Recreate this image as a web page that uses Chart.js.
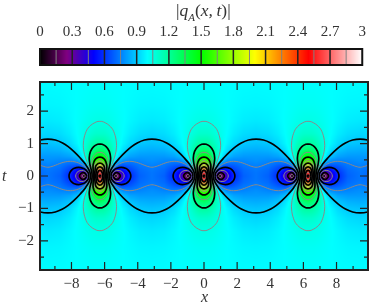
<!DOCTYPE html>
<html lang="en">
  <head>
    <meta charset="UTF-8" />
    <title>|q_A(x,t)|</title>
    <script src="https://cdn.jsdelivr.net/npm/chart.js"></script>
    <style>
      body {
        margin: 0;
        width: 374px;
        height: 305px;
        overflow: hidden;
        background: #fff;
        position: relative;
        font-family: "Liberation Serif", serif;
        color: #333;
      }
      canvas {
        position: absolute;
        left: 0;
        display: block;
      }
      #barCanvas { top: 0; }
      #mainCanvas { top: 72px; }
      .label {
        position: absolute;
        font-size: 16px;
        line-height: 16px;
        white-space: nowrap;
      }
      #topTitle { font-size: 17.5px; }
      .label sub { font-size: 11px; line-height: 0; }
    </style>
  </head>
  <body>
    <canvas id="barCanvas" width="374" height="72"></canvas>
    <canvas id="mainCanvas" width="374" height="233"></canvas>
    <div class="label" id="topTitle" style="left: 176px; top: 2px">|<i>q</i><sub><i>A</i></sub>(<i>x,&#8201;t</i>)|</div>
    <div class="label" style="left: 201px; top: 289px"><i>x</i></div>
    <div class="label" style="left: 2px; top: 168px"><i>t</i></div>

    <script>
      // colour bar
      const colorStops = [0, 0.25, 0.5, 1, 1.5, 2, 2.5, 3];
      const colorValues = [
        [0, 0, 0], [128, 0, 128], [0, 0, 255], [0, 255, 255],
        [0, 255, 0], [255, 255, 0], [255, 0, 0], [255, 255, 255],
      ];
      const blackLevels = [0.3, 0.6, 0.9, 1.2, 1.5, 1.8, 2.1, 2.4, 2.7];
      const grayLevels = [0.15, 0.45, 0.75, 1.05, 1.35, 1.65, 1.95, 2.25, 2.55, 2.85];

      // |q|: one quarter of a period, columns xGrid, rows tGrid
      const xGrid = [0, 0.2, 0.35, 0.5, 0.65, 0.8, 0.96, 1.15, 1.4, 1.8, 2.4, 3.1416];
      const tGrid = [0, 0.1, 0.2, 0.3, 0.45, 0.6, 0.8, 1, 1.3, 1.7, 2.2, 2.9];
      const qRows = [
        [2.73, 2.31, 1.67, 1.08, 0.61, 0.26, 0.01, 0.23, 0.41, 0.58, 0.69, 0.73],
        [2.61, 2.25, 1.69, 1.15, 0.72, 0.43, 0.29, 0.33, 0.45, 0.59, 0.70, 0.73],
        [2.34, 2.09, 1.68, 1.27, 0.93, 0.69, 0.55, 0.50, 0.54, 0.63, 0.71, 0.74],
        [2.05, 1.89, 1.63, 1.34, 1.08, 0.88, 0.74, 0.66, 0.64, 0.67, 0.73, 0.75],
        [1.71, 1.64, 1.50, 1.34, 1.18, 1.04, 0.93, 0.83, 0.77, 0.75, 0.76, 0.78],
        [1.48, 1.45, 1.38, 1.29, 1.19, 1.10, 1.02, 0.94, 0.87, 0.82, 0.80, 0.80],
        [1.30, 1.28, 1.25, 1.21, 1.16, 1.11, 1.06, 1.00, 0.94, 0.885, 0.85, 0.84],
        [1.19, 1.185, 1.17, 1.147, 1.12, 1.09, 1.06, 1.02, 0.98, 0.93, 0.89, 0.88],
        [1.10, 1.10, 1.094, 1.084, 1.072, 1.058, 1.042, 1.023, 0.998, 0.965, 0.933, 0.92],
        [1.049, 1.048, 1.045, 1.042, 1.037, 1.031, 1.024, 1.015, 1.004, 0.986, 0.966, 0.958],
        [1.02, 1.02, 1.02, 1.018, 1.016, 1.013, 1.01, 1.007, 1.0, 0.994, 0.985, 0.982],
        [1.004, 1.004, 1.004, 1.003, 1.003, 1.002, 1.002, 1.001, 1.0, 0.999, 0.997, 0.996],
      ];

      // contour lines, one quarter, [x from the peak, t]
      const lobe105 = [[0.509, 0], [0.564, 0.16], [0.72, 0.359], [0.863, 0.555], [0.968, 0.76], [0.997, 1.018], [0.873, 1.32], [0.643, 1.52], [0.225, 1.667], [0, 1.686]];
      const lobe120 = [[0.469, 0], [0.51, 0.16], [0.604, 0.359], [0.645, 0.555], [0.568, 0.76], [0.375, 0.905], [0.127, 0.98], [0, 0.985]];
      const lobe135 = [[0.43, 0], [0.47, 0.16], [0.503, 0.359], [0.44, 0.555], [0.25, 0.687], [0, 0.73]];
      const lobe150 = [[0.393, 0], [0.41, 0.2], [0.405, 0.359], [0.298, 0.5], [0.13, 0.57], [0, 0.585]];
      const lobe165 = [[0.356, 0], [0.34, 0.2], [0.305, 0.359], [0.15, 0.45], [0, 0.475]];
      const lobe180 = [[0.323, 0], [0.3, 0.15], [0.246, 0.312], [0.1, 0.39], [0, 0.4]];
      const lobe195 = [[0.288, 0], [0.26, 0.12], [0.216, 0.256], [0.1, 0.33], [0, 0.34]];
      const lobe210 = [[0.25, 0], [0.225, 0.11], [0.18, 0.215], [0.08, 0.27], [0, 0.28]];
      const lobe225 = [[0.215, 0], [0.17, 0.12], [0.07, 0.2], [0, 0.22]];
      const lobe240 = [[0.173, 0], [0.14, 0.1], [0.06, 0.165], [0, 0.177]];
      const lobe255 = [[0.126, 0], [0.09, 0.08], [0, 0.12]];
      const lobe270 = [[0.05, 0], [0.035, 0.02], [0, 0.03]];
      const oval060 = [[0.665, 0], [0.706, 0.1], [0.838, 0.182], [0.979, 0.231], [1.287, 0.266], [1.583, 0.231], [1.708, 0.182], [1.82, 0.1], [1.864, 0]];
      const oval045 = [[0.714, 0], [0.76, 0.08], [0.883, 0.141], [1.09, 0.172], [1.315, 0.141], [1.42, 0.08], [1.465, 0]];
      const oval030 = [[0.78, 0], [0.938, 0.1], [1.01, 0.105], [1.088, 0.1], [1.234, 0]];
      const oval015 = [[0.86, 0], [0.96, 0.05], [1.07, 0]];
      const wave090 = [[0.553, 0], [0.63, 0.16], [0.867, 0.359], [1.185, 0.555], [1.58, 0.76], [1.914, 0.905], [2.254, 1.018], [2.69, 1.11], [3.1416, 1.14]];
      const wave075 = [[0.6, 0], [0.68, 0.141], [0.853, 0.256], [0.98, 0.312], [1.117, 0.359], [1.278, 0.4], [1.506, 0.436], [1.79, 0.454], [2.088, 0.436], [2.346, 0.4], [2.556, 0.359], [2.786, 0.312], [3.0, 0.28], [3.1416, 0.27]];

      const peaks = [-6.2832, 0, 6.2832];
      const wavePeaks = [-12.5664, -6.2832, 0, 6.2832];
      const period = 6.2832;

      const BLACK = "#000";
      const GRAY = "#8a8a8a";
      const FRAME = "#222";

      function qColor(v) {
        v = Math.max(0, Math.min(3, v));
        let i = 0;
        while (i < colorStops.length - 2 && v > colorStops[i + 1]) i++;
        const f = (v - colorStops[i]) / (colorStops[i + 1] - colorStops[i]);
        return colorValues[i].map((c, k) => c + (colorValues[i + 1][k] - c) * f);
      }

      function bracket(list, v) {
        let i = 0;
        while (i < list.length - 2 && v > list[i + 1]) i++;
        const f = Math.min(1, (v - list[i]) / (list[i + 1] - list[i]));
        return [i, f];
      }

      function qAt(x, t) {
        let u = ((x % period) + period) % period;
        if (u > period / 2) u = period - u;
        const [i, fx] = bracket(xGrid, u);
        const [j, ft] = bracket(tGrid, Math.abs(t));
        const a = qRows[j][i] + (qRows[j][i + 1] - qRows[j][i]) * fx;
        const b = qRows[j + 1][i] + (qRows[j + 1][i + 1] - qRows[j + 1][i]) * fx;
        return a + (b - a) * ft;
      }

      const toPoint = ([x, t]) => ({ x, y: t });

      function lineSet(points, level, color, width) {
        return {
          data: points.map(toPoint),
          borderColor: color,
          borderWidth: width,
          showLine: true,
          pointRadius: 0,
          tension: 0.4,
          order: color === BLACK ? 0 : 1,
          label: String(level),
        };
      }

      function loopFromLobe(q, c) {
        const a = q.map(([x, t]) => [c + x, t]);
        const b = q.slice(0, -1).reverse().map(([x, t]) => [c - x, t]);
        const top = a.concat(b);
        const bottom = top.slice(0, -1).reverse().map(([x, t]) => [x, -t]);
        return top.concat(bottom);
      }

      function loopFromOval(q, c, side) {
        const top = q.map(([x, t]) => [c + side * x, t]);
        const bottom = top.slice(0, -1).reverse().map(([x, t]) => [x, -t]);
        return top.concat(bottom);
      }

      function waveAcross(q, c, sign) {
        const a = q.map(([x, t]) => [c + x, sign * t]);
        const b = q.slice(0, -1).reverse().map(([x, t]) => [c + period - x, sign * t]);
        return a.concat(b);
      }

      const contourSets = [];
      [
        [lobe105, 1.05, GRAY], [lobe120, 1.2, BLACK], [lobe135, 1.35, GRAY], [lobe150, 1.5, BLACK],
        [lobe165, 1.65, GRAY], [lobe180, 1.8, BLACK], [lobe195, 1.95, GRAY], [lobe210, 2.1, BLACK],
        [lobe225, 2.25, GRAY], [lobe240, 2.4, BLACK], [lobe255, 2.55, GRAY], [lobe270, 2.7, BLACK],
      ].forEach(([q, level, color]) => {
        peaks.forEach((c) => {
          contourSets.push(lineSet(loopFromLobe(q, c), level, color, color === BLACK ? 1.7 : 1));
        });
      });
      [
        [oval060, 0.6, BLACK], [oval045, 0.45, GRAY], [oval030, 0.3, BLACK], [oval015, 0.15, GRAY],
      ].forEach(([q, level, color]) => {
        peaks.forEach((c) => {
          [1, -1].forEach((side) => {
            contourSets.push(lineSet(loopFromOval(q, c, side), level, color, color === BLACK ? 1.7 : 1));
          });
        });
      });
      [
        [wave090, 0.9, BLACK], [wave075, 0.75, GRAY],
      ].forEach(([q, level, color]) => {
        wavePeaks.forEach((c) => {
          [1, -1].forEach((sign) => {
            contourSets.push(lineSet(waveAcross(q, c, sign), level, color, color === BLACK ? 1.7 : 1));
          });
        });
      });

      // paints the |q| field under the contour lines
      const fieldPlugin = {
        id: "field",
        beforeDatasetsDraw(chart) {
          const { ctx, chartArea: area, scales } = chart;
          const w = Math.round(area.right - area.left);
          const h = Math.round(area.bottom - area.top);
          const img = ctx.createImageData(w, h);
          for (let py = 0; py < h; py++) {
            const t = scales.y.getValueForPixel(area.top + py + 0.5);
            for (let px = 0; px < w; px++) {
              const x = scales.x.getValueForPixel(area.left + px + 0.5);
              const c = qColor(qAt(x, t));
              const o = (py * w + px) * 4;
              img.data[o] = c[0];
              img.data[o + 1] = c[1];
              img.data[o + 2] = c[2];
              img.data[o + 3] = 255;
            }
          }
          ctx.putImageData(img, Math.round(area.left), Math.round(area.top));
        },
      };

      // frame and the inward ticks on all four sides
      const framePlugin = {
        id: "frame",
        afterDatasetsDraw(chart) {
          const { ctx, chartArea: area, scales } = chart;
          ctx.save();
          ctx.strokeStyle = FRAME;
          ctx.lineWidth = 1.2;
          ctx.beginPath();
          scales.x.ticks.forEach((tick) => {
            const px = scales.x.getPixelForValue(tick.value);
            const len = tick.value % 2 === 0 ? 8 : 4;
            ctx.moveTo(px, area.bottom);
            ctx.lineTo(px, area.bottom - len);
            ctx.moveTo(px, area.top);
            ctx.lineTo(px, area.top + len);
          });
          scales.y.ticks.forEach((tick) => {
            const py = scales.y.getPixelForValue(tick.value);
            const len = Number.isInteger(tick.value) ? 8 : 4;
            ctx.moveTo(area.left, py);
            ctx.lineTo(area.left + len, py);
            ctx.moveTo(area.right, py);
            ctx.lineTo(area.right - len, py);
          });
          ctx.stroke();
          ctx.lineWidth = 2;
          ctx.strokeRect(area.left, area.top, area.right - area.left, area.bottom - area.top);
          ctx.restore();
        },
      };

      const barFillPlugin = {
        id: "barFill",
        beforeDatasetsDraw(chart) {
          const { ctx, chartArea: area, scales } = chart;
          for (let px = Math.floor(area.left); px < area.right; px++) {
            const c = qColor(scales.x.getValueForPixel(px + 0.5));
            ctx.fillStyle = `rgb(${c[0]},${c[1]},${c[2]})`;
            ctx.fillRect(px, area.top, 1, area.bottom - area.top);
          }
        },
      };

      const barFramePlugin = {
        id: "barFrame",
        afterDatasetsDraw(chart) {
          const { ctx, chartArea: area } = chart;
          ctx.save();
          ctx.strokeStyle = "#111";
          ctx.lineWidth = 2;
          ctx.strokeRect(area.left, area.top, area.right - area.left, area.bottom - area.top);
          ctx.restore();
        },
      };

      const tickFont = { family: "'Liberation Serif', serif", size: 15 };
      const minus = (v) => String(v).replace("-", "\u2212");

      function levelSet(level, color, width) {
        return {
          data: [{ x: level, y: 0 }, { x: level, y: 1 }],
          borderColor: color,
          borderWidth: width,
          showLine: true,
          pointRadius: 0,
        };
      }

      new Chart(document.getElementById("barCanvas"), {
        type: "scatter",
        data: {
          datasets: blackLevels.map((l) => levelSet(l, "#222", 1.5))
            .concat(grayLevels.map((l) => levelSet(l, "#808080", 1))),
        },
        options: {
          responsive: false,
          animation: false,
          layout: { padding: { left: 40, right: 6, bottom: 7, top: 0 } },
          plugins: { legend: { display: false }, tooltip: { enabled: false } },
          scales: {
            x: {
              type: "linear",
              position: "top",
              min: 0,
              max: 3,
              afterFit: (s) => { s.height = 49; },
              grid: { display: false, drawTicks: false },
              border: { display: false },
              ticks: {
                stepSize: 0.3,
                padding: 8,
                color: "#333",
                font: tickFont,
                autoSkip: false,
                maxRotation: 0,
                callback: (v) => String(+v.toFixed(1)),
              },
            },
            y: { display: false, min: 0, max: 1 },
          },
        },
        plugins: [barFillPlugin, barFramePlugin],
      });

      new Chart(document.getElementById("mainCanvas"), {
        type: "scatter",
        data: { datasets: contourSets },
        options: {
          responsive: false,
          animation: false,
          layout: { padding: { top: 10, right: 6, left: 0, bottom: 0 } },
          plugins: { legend: { display: false }, tooltip: { enabled: false } },
          scales: {
            x: {
              type: "linear",
              min: -9.9,
              max: 9.9,
              afterFit: (s) => { s.height = 35; },
              grid: { display: false, drawTicks: false },
              border: { display: false },
              ticks: {
                stepSize: 1,
                includeBounds: false,
                autoSkip: false,
                maxRotation: 0,
                padding: 5,
                color: "#333",
                font: tickFont,
                callback: (v) => (v % 2 === 0 ? minus(v) : ""),
              },
            },
            y: {
              type: "linear",
              min: -2.9,
              max: 2.9,
              afterFit: (s) => {
                s.width = 40;
                // top tick label must not push the plot area down
                s.paddingTop = 0;
                s.paddingBottom = 0;
              },
              grid: { display: false, drawTicks: false },
              border: { display: false },
              ticks: {
                stepSize: 0.5,
                includeBounds: false,
                autoSkip: false,
                padding: 6,
                color: "#333",
                font: tickFont,
                callback: (v) => (Number.isInteger(v) ? minus(v) : ""),
              },
            },
          },
        },
        plugins: [fieldPlugin, framePlugin],
      });
    </script>
  </body>
</html>
